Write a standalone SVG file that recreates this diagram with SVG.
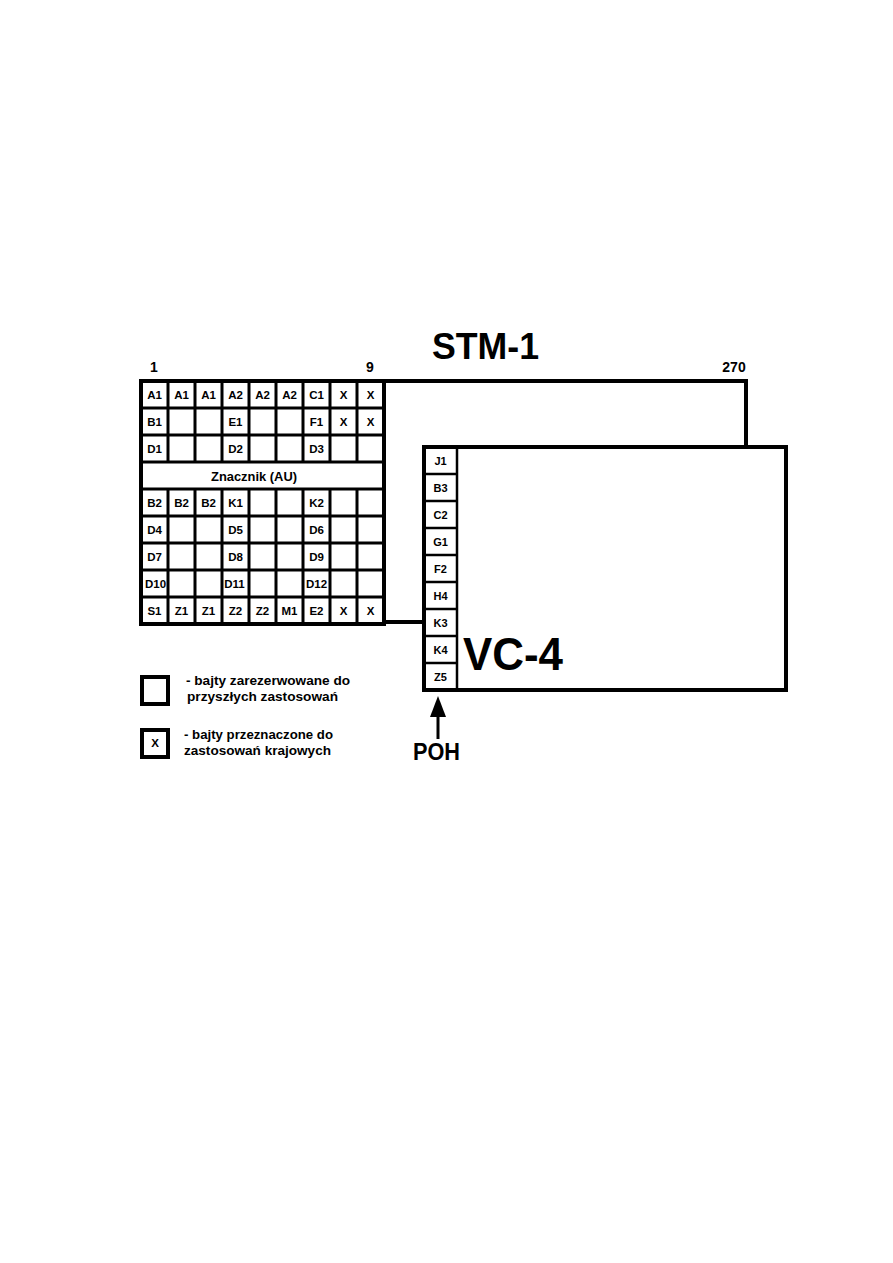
<svg xmlns="http://www.w3.org/2000/svg" width="893" height="1263" viewBox="0 0 893 1263">
<defs>
<style>
.t{font-family:"Liberation Sans",Arial,sans-serif;font-weight:bold;fill:#000}
.c{font-size:11.5px;text-anchor:middle}
.p{font-size:11px;text-anchor:middle}
.ln{stroke:#000;stroke-width:3;fill:none}
.ln2{stroke:#000;stroke-width:2.5;fill:none}
.bx{stroke:#000;stroke-width:4;fill:#fff}
.lg{font-size:13px}
</style>
</defs>
<rect width="893" height="1263" fill="#fff"/>

<text class="t" x="432" y="359" font-size="36" textLength="107" lengthAdjust="spacingAndGlyphs">STM-1</text>
<text class="t" x="154" y="372" font-size="14" text-anchor="middle">1</text>
<text class="t" x="370" y="372" font-size="14" text-anchor="middle">9</text>
<text class="t" x="734" y="372" font-size="14" text-anchor="middle">270</text>

<g id="stm1-frame">
<rect x="141" y="381" width="605" height="241" class="bx"/>
</g>

<g id="soh-grid">
<rect x="141" y="381" width="243" height="243" class="bx"/>
<path class="ln" d="M141 408H384M141 435H384M141 462H384M141 489H384M141 516H384M141 543H384M141 570H384M141 597H384"/>
<path class="ln" d="M168 381V462M195 381V462M222 381V462M249 381V462M276 381V462M303 381V462M330 381V462M357 381V462M168 489V624M195 489V624M222 489V624M249 489V624M276 489V624M303 489V624M330 489V624M357 489V624"/>
<g class="t c">
<text x="154.5" y="398.5">A1</text><text x="181.5" y="398.5">A1</text><text x="208.5" y="398.5">A1</text><text x="235.5" y="398.5">A2</text><text x="262.5" y="398.5">A2</text><text x="289.5" y="398.5">A2</text><text x="316.5" y="398.5">C1</text><text x="343.5" y="398.5">X</text><text x="370.5" y="398.5">X</text>
<text x="154.5" y="425.5">B1</text><text x="235.5" y="425.5">E1</text><text x="316.5" y="425.5">F1</text><text x="343.5" y="425.5">X</text><text x="370.5" y="425.5">X</text>
<text x="154.5" y="452.5">D1</text><text x="235.5" y="452.5">D2</text><text x="316.5" y="452.5">D3</text>
<text x="254" y="480.5" font-size="12.5px" textLength="86" lengthAdjust="spacingAndGlyphs">Znacznik (AU)</text>
<text x="154.5" y="506.5">B2</text><text x="181.5" y="506.5">B2</text><text x="208.5" y="506.5">B2</text><text x="235.5" y="506.5">K1</text><text x="316.5" y="506.5">K2</text>
<text x="154.5" y="533.5">D4</text><text x="235.5" y="533.5">D5</text><text x="316.5" y="533.5">D6</text>
<text x="154.5" y="560.5">D7</text><text x="235.5" y="560.5">D8</text><text x="316.5" y="560.5">D9</text>
<text x="155.5" y="587.5">D10</text><text x="234.5" y="587.5">D11</text><text x="316.5" y="587.5">D12</text>
<text x="154.5" y="614.5">S1</text><text x="181.5" y="614.5">Z1</text><text x="208.5" y="614.5">Z1</text><text x="235.5" y="614.5">Z2</text><text x="262.5" y="614.5">Z2</text><text x="289.5" y="614.5">M1</text><text x="316.5" y="614.5">E2</text><text x="343.5" y="614.5">X</text><text x="370.5" y="614.5">X</text>
</g>
</g>

<g id="vc4">
<rect x="424" y="447" width="362" height="243" class="bx" stroke-width="3.5"/>
<path class="ln2" d="M457 447V690M424 474H457M424 501H457M424 528H457M424 555H457M424 582H457M424 609H457M424 636H457M424 663H457"/>
<g class="t p">
<text x="440.5" y="465">J1</text><text x="440.5" y="492">B3</text><text x="440.5" y="519">C2</text><text x="440.5" y="546">G1</text><text x="440.5" y="573">F2</text><text x="440.5" y="600">H4</text><text x="440.5" y="627">K3</text><text x="440.5" y="654">K4</text><text x="440.5" y="681">Z5</text>
</g>
<text class="t" x="463" y="670" font-size="46" textLength="100" lengthAdjust="spacingAndGlyphs">VC-4</text>
</g>

<g id="legend">
<rect x="142" y="677" width="26" height="27" class="bx" stroke-width="3.5"/>
<text class="t lg" x="186" y="685" textLength="164" lengthAdjust="spacingAndGlyphs">- bajty zarezerwowane do</text>
<text class="t lg" x="187" y="701" textLength="151" lengthAdjust="spacingAndGlyphs">przyszłych  zastosowań</text>
<rect x="142" y="730" width="26" height="27" class="bx" stroke-width="3"/>
<text class="t c" x="155" y="747">X</text>
<text class="t lg" x="184" y="739" textLength="149" lengthAdjust="spacingAndGlyphs">- bajty przeznaczone do</text>
<text class="t lg" x="184" y="755" textLength="147" lengthAdjust="spacingAndGlyphs">zastosowań krajowych</text>
</g>

<g id="poh">
<text class="t" x="413" y="760" font-size="23" textLength="47" lengthAdjust="spacingAndGlyphs">POH</text>
</g>

<g id="connectors">
<line x1="438" y1="739" x2="438" y2="716" stroke="#000" stroke-width="3"/>
<polygon points="438,696 430,717 446,717" fill="#000"/>
</g>
</svg>
